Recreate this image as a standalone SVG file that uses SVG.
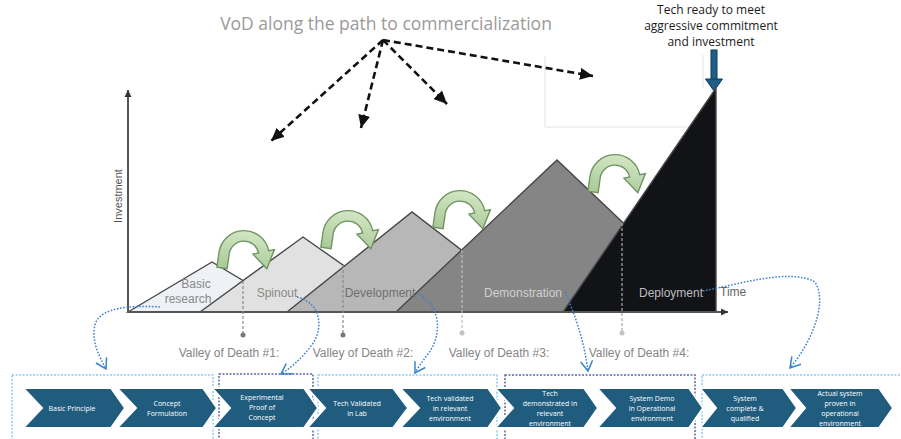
<svg xmlns="http://www.w3.org/2000/svg" width="901" height="439" viewBox="0 0 901 439">
<defs>
<style>
.mtn{stroke:#474747;stroke-width:1.4;stroke-linejoin:miter}
.lbl{font-family:"Liberation Sans",Arial,sans-serif;font-size:12px;text-anchor:middle}
.vod{font-family:"Liberation Sans",Arial,sans-serif;font-size:12px;fill:#858585;text-anchor:middle}
.chev{fill:#205c7e;stroke:#ffffff;stroke-width:2}
.ct{font-family:"Open Sans","Liberation Sans",sans-serif;font-size:7px;fill:#ffffff;text-anchor:middle}
.vline{stroke-width:1.2;stroke-dasharray:3 2;fill:none}
.bdash{stroke:#111;stroke-width:2.6;stroke-dasharray:7 4;fill:none}
.blue{stroke:#3d82cf;stroke-width:1.5;stroke-dasharray:1.6 1.6;fill:none}
.frL{fill:none;stroke:#8ccbef;stroke-width:1.5;stroke-dasharray:2 1.5}
.frD{fill:none;stroke:#5c66a6;stroke-width:1.5;stroke-dasharray:2 1.5}
.garrow{fill:url(#gg);stroke:#6f9460;stroke-width:1.2}
</style>
<linearGradient id="gg" x1="0" y1="0" x2="0" y2="1">
<stop offset="0" stop-color="#d3e6c4"/>
<stop offset="1" stop-color="#a9c997"/>
</linearGradient>
<marker id="bk" markerWidth="14" markerHeight="12" refX="13" refY="6" orient="auto" markerUnits="userSpaceOnUse">
<path d="M0,0 L13,6 L0,12 Z" fill="#111"/>
</marker>
<marker id="bl" markerWidth="14" markerHeight="14" refX="11" refY="7" orient="auto" markerUnits="userSpaceOnUse">
<path d="M1,1 L11,7 L1,13" fill="none" stroke="#3d82cf" stroke-width="1.5"/>
</marker>
<marker id="ax" markerWidth="8" markerHeight="8" refX="7" refY="4" orient="auto" markerUnits="userSpaceOnUse">
<path d="M0,0.5 L7,4 L0,7.5 Z" fill="#333"/>
</marker>
<path id="garc" d="M -22,13 L -22,0 A 22,22 0 0 1 20.7,-7.5 L 25.4,-9.2 L 21.2,8.2 L 7.5,-2.7 L 12.2,-4.4 A 13,13 0 0 0 -13,0 L -13,13 Z"/>
</defs>
<rect width="901" height="439" fill="#ffffff"/>

<g id="faint" fill="none" stroke="#e3e3e3" stroke-width="1">
<path d="M545,56 L545,127 L700,127"/>
<path d="M703,55 L703,88"/>
</g>

<text id="title" x="386" y="30" font-family="'Open Sans','Liberation Sans',sans-serif" font-size="17.5" fill="#9a9a9a" text-anchor="middle">VoD along the path to commercialization</text>

<g id="tech-ready">
<text x="711" y="14" font-family="'Open Sans','Liberation Sans',sans-serif" font-size="12" fill="#1c1c1c" text-anchor="middle">Tech ready to meet</text>
<text x="711" y="30" font-family="'Open Sans','Liberation Sans',sans-serif" font-size="12" fill="#1c1c1c" text-anchor="middle">aggressive commitment</text>
<text x="711" y="46" font-family="'Open Sans','Liberation Sans',sans-serif" font-size="12" fill="#1c1c1c" text-anchor="middle">and investment</text>
<rect x="711" y="50" width="6" height="30" fill="#1e5f88" stroke="#0f3a58" stroke-width="1"/>
<path d="M705.5,79 L722.5,79 L714,91 Z" fill="#1e5f88" stroke="#0f3a58" stroke-width="1"/>
</g>

<g id="mountains">
<g id="basic-research"><path class="mtn" d="M128,312 L212,262 L296,312 Z" fill="#eef1f5"/></g>
<g id="spinout"><path class="mtn" d="M200,312 L303,237 L410,312 Z" fill="#e1e1e1"/></g>
<g id="development"><path class="mtn" d="M287,312 L412,212 L542,312 Z" fill="#b7b7b7"/></g>
<g id="demonstration"><path class="mtn" d="M396,312 L557,160 L717,312 Z" fill="#858585"/></g>
<g id="deployment"><path class="mtn" d="M563,312 L716,88 L716,312 Z" fill="#121317"/></g>
</g>

<g id="axes" fill="none" stroke="#555" stroke-width="2">
<path d="M128,312 L128,90" marker-end="url(#ax)"/>
<path d="M128,312 L728,312" marker-end="url(#ax)"/>
</g>

<g id="stage-labels">
<text class="lbl" x="196" y="288" fill="#888">Basic</text>
<text class="lbl" x="188" y="303" fill="#888">research</text>
<text class="lbl" x="277" y="297" fill="#8a8a8a">Spinout</text>
<text class="lbl" x="380" y="297" fill="#6f6f6f">Development</text>
<text class="lbl" x="523" y="297" fill="#d0d0d0">Demonstration</text>
<text class="lbl" x="671" y="297" fill="#bdbdbd">Deployment</text>
<text x="720" y="296" font-family="'Liberation Sans',Arial,sans-serif" font-size="12" fill="#666">Time</text>
<text transform="translate(122,196) rotate(-90)" font-family="'Liberation Sans',Arial,sans-serif" font-size="11" fill="#555" text-anchor="middle">Investment</text>
</g>

<g id="green-arrows">
<use href="#garc" class="garrow" transform="translate(244,256) rotate(8) scale(1.15)"/>
<use href="#garc" class="garrow" transform="translate(348,236) rotate(8) scale(1.15)"/>
<use href="#garc" class="garrow" transform="translate(460,216) rotate(8) scale(1.15)"/>
<use href="#garc" class="garrow" transform="translate(615,180) rotate(8) scale(1.15)"/>
</g>

<g id="valleys">
<path class="vline" stroke="#8a8a8a" d="M243,281 L243,333"/>
<circle cx="243" cy="335" r="2.5" fill="#777"/>
<path class="vline" stroke="#8a8a8a" d="M343,265 L343,333"/>
<circle cx="343" cy="335" r="2.5" fill="#777"/>
<path class="vline" stroke="#bdbdbd" d="M462,250 L462,331"/>
<circle cx="462" cy="333" r="2.5" fill="#c2c2c2"/>
<path class="vline" stroke="#a8a8a8" d="M622,223 L622,331"/>
<circle cx="622" cy="333" r="2.5" fill="#c2c2c2"/>
<text class="vod" x="229" y="357">Valley of Death #1:</text>
<text class="vod" x="363" y="357">Valley of Death #2:</text>
<text class="vod" x="499" y="357">Valley of Death #3:</text>
<text class="vod" x="639" y="357">Valley of Death #4:</text>
</g>

<g id="frames">
<rect class="frL" x="12" y="375" width="201" height="75"/>
<rect class="frD" x="219" y="374" width="94" height="76"/>
<rect class="frL" x="318" y="375" width="179" height="75"/>
<rect class="frD" x="505" y="375" width="190" height="75"/>
<rect class="frL" x="702" y="375" width="210" height="75"/>
</g>

<g id="chevrons">
<g id="trl1"><path class="chev" d="M23,388 H111 L125,408 L111,428 H23 L42,408 Z"/>
<text class="ct" x="72" y="410.5">Basic Principle</text></g>
<g id="trl2"><path class="chev" d="M117,388 H203 L217,408 L203,428 H117 L136,408 Z"/>
<text class="ct" x="167" y="405.5">Concept</text><text class="ct" x="167" y="415.5">Formulation</text></g>
<g id="trl3"><path class="chev" d="M212,388 H304 L318,408 L304,428 H212 L230,408 Z"/>
<text class="ct" x="262" y="399.5">Experimental</text><text class="ct" x="262" y="409.5">Proof of</text><text class="ct" x="262" y="419.5">Concept</text></g>
<g id="trl4"><path class="chev" d="M307,388 H393 L408,408 L393,428 H307 L325,408 Z"/>
<text class="ct" x="357" y="405.5">Tech Validated</text><text class="ct" x="357" y="415.5">in Lab</text></g>
<g id="trl5"><path class="chev" d="M400,388 H488 L502,408 L488,428 H400 L419,408 Z"/>
<text class="ct" x="450" y="400.5">Tech validated</text><text class="ct" x="450" y="410.5">in relevant</text><text class="ct" x="450" y="420.5">environment</text></g>
<g id="trl6"><path class="chev" d="M495,388 H584 L598,408 L584,428 H495 L513,408 Z"/>
<text class="ct" x="550" y="395.5">Tech</text><text class="ct" x="550" y="405.5">demonstrated in</text><text class="ct" x="550" y="415.5">relevant</text><text class="ct" x="550" y="425.5">environment</text></g>
<g id="trl7"><path class="chev" d="M597,388 H689 L703,408 L689,428 H597 L615,408 Z"/>
<text class="ct" x="652" y="400.5">System Demo</text><text class="ct" x="652" y="410.5">in Operational</text><text class="ct" x="652" y="420.5">environment</text></g>
<g id="trl8"><path class="chev" d="M700,388 H783 L797,408 L783,428 H700 L716,408 Z"/>
<text class="ct" x="745" y="400.5">System</text><text class="ct" x="745" y="410.5">complete &amp;</text><text class="ct" x="745" y="420.5">qualified</text></g>
<g id="trl9"><path class="chev" d="M788,388 H879 L893,408 L879,428 H788 L805,408 Z"/>
<text class="ct" x="840" y="395.5">Actual system</text><text class="ct" x="840" y="405.5">proven in</text><text class="ct" x="840" y="415.5">operational</text><text class="ct" x="840" y="425.5">environment</text></g>
</g>

<g id="connectors">
<path class="bdash" d="M383,40 L271,141" marker-end="url(#bk)"/>
<path class="bdash" d="M383,40 L361,128" marker-end="url(#bk)"/>
<path class="bdash" d="M383,40 L447,104" marker-end="url(#bk)"/>
<path class="bdash" d="M383,40 L593,76" marker-end="url(#bk)"/>
<path class="blue" d="M160,307 C130,305 102,308 96,322 C90,338 98,354 106,369" marker-end="url(#bl)"/>
<path class="blue" d="M297,297 C322,303 324,330 311,346 C302,358 292,367 281,374" marker-end="url(#bl)"/>
<path class="blue" d="M417,293 C442,305 442,336 428,354 C421,363 418,368 415,373" marker-end="url(#bl)"/>
<path class="blue" d="M565,292 C573,310 580,330 584,348 C586,358 587,364 588,371" marker-end="url(#bl)"/>
<path class="blue" d="M703,291 C740,284 790,268 815,282 C828,302 812,342 790,368" marker-end="url(#bl)"/>
</g>
</svg>
